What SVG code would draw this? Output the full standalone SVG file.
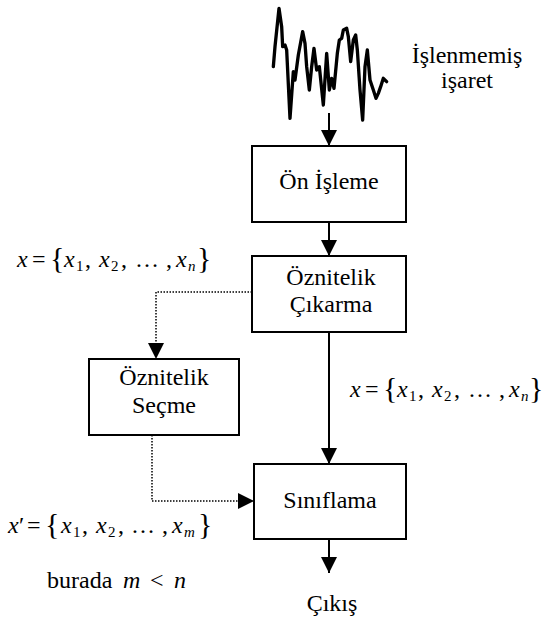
<svg xmlns="http://www.w3.org/2000/svg" width="543" height="619" viewBox="0 0 543 619" font-family="'Liberation Serif', 'Times New Roman', 'DejaVu Serif', serif">
<style>
text, tspan{font-family:"Liberation Serif","Times New Roman","DejaVu Serif",serif;fill:#000}
.lbl{font-size:24px;text-anchor:middle}
.box{fill:#fff;stroke:#000;stroke-width:2}
.solid{stroke:#000;stroke-width:2;fill:none}
.dot{stroke:#000;stroke-width:1.5;stroke-dasharray:1.5 1.5;fill:none}
.it{font-style:italic;font-size:24px}
.op{font-size:24px}
.br{font-size:30px}
.sub{font-size:15px}
</style>
<defs>
<marker id="ah" viewBox="0 0 16 16" markerWidth="16" markerHeight="16" refX="16" refY="8" orient="auto" markerUnits="userSpaceOnUse">
<path d="M0,0 L16,8 L0,16 z" fill="#000"/>
</marker>
</defs>

<g id="signal">
<g transform="translate(260 0) scale(0.33333)">
<path d="M40,200 L45,140 L57,25 L65,80 L68,140 L75,135 L80,150 L90,355 L100,215 L105,240 L115,165 L128,95 L135,130 L140,200 L148,270 L155,200 L162,145 L170,210 L178,200 L190,315 L200,160 L208,270 L215,235 L222,265 L232,160 L238,120 L245,115 L250,90 L260,85 L265,110 L272,185 L280,120 L287,105 L292,150 L300,270 L308,360 L315,200 L322,150 L330,240 L340,270 L348,295 L355,280 L362,260 L370,235 L380,245" fill="none" stroke="#000" stroke-width="10" stroke-linejoin="round" stroke-linecap="round"/>
</g>
<text class="lbl" x="467" y="63">İşlenmemiş</text>
<text class="lbl" x="467" y="88">işaret</text>
</g>

<g id="connectors">
<line class="solid" x1="329" y1="113" x2="329" y2="146" marker-end="url(#ah)"/>
<line class="solid" x1="329" y1="222" x2="329" y2="256" marker-end="url(#ah)"/>
<line class="solid" x1="329" y1="332" x2="329" y2="464" marker-end="url(#ah)"/>
<line class="solid" x1="329" y1="539" x2="329" y2="573" marker-end="url(#ah)"/>
<polyline class="dot" points="252,292 156,292 156,359" marker-end="url(#ah)"/>
<polyline class="dot" points="152,435 152,501 254,501" marker-end="url(#ah)"/>
</g>

<g id="on-isleme">
<rect class="box" x="252" y="146" width="154" height="76"/>
<text class="lbl" x="329" y="189">Ön İşleme</text>
</g>

<g id="oznitelik-cikarma">
<rect class="box" x="252" y="256" width="154" height="76"/>
<text class="lbl" x="331" y="285">Öznitelik</text>
<text class="lbl" x="331" y="312">Çıkarma</text>
</g>

<g id="oznitelik-secme">
<rect class="box" x="89" y="359" width="150" height="76"/>
<text class="lbl" x="164" y="385">Öznitelik</text>
<text class="lbl" x="164" y="413">Seçme</text>
</g>

<g id="siniflama">
<rect class="box" x="254" y="464" width="152" height="75"/>
<text class="lbl" x="330" y="508">Sınıflama</text>
</g>

<g id="cikis">
<text class="lbl" x="332" y="611">Çıkış</text>
</g>

<g id="label-x-top">
<text x="0" y="267"><tspan class="it" x="17">x</tspan><tspan class="op" x="32">=</tspan><tspan class="br" x="50" dy="1">{</tspan><tspan class="it" x="64" dy="-1">x</tspan><tspan class="sub" x="76" dy="4">1</tspan><tspan class="op" x="85" dy="-4">,</tspan><tspan class="it" x="99">x</tspan><tspan class="sub" x="111" dy="4">2</tspan><tspan class="op" x="121" dy="-4">,</tspan><tspan class="op" x="135">…</tspan><tspan class="op" x="166">,</tspan><tspan class="it" x="176">x</tspan><tspan class="sub it" x="188" dy="4">n</tspan><tspan class="br" x="197" dy="-3">}</tspan></text>
</g>

<g id="label-x-right">
<text x="0" y="397"><tspan class="it" x="350">x</tspan><tspan class="op" x="365">=</tspan><tspan class="br" x="383" dy="1">{</tspan><tspan class="it" x="397" dy="-1">x</tspan><tspan class="sub" x="409" dy="4">1</tspan><tspan class="op" x="418" dy="-4">,</tspan><tspan class="it" x="432">x</tspan><tspan class="sub" x="444" dy="4">2</tspan><tspan class="op" x="454" dy="-4">,</tspan><tspan class="op" x="468">…</tspan><tspan class="op" x="499">,</tspan><tspan class="it" x="509">x</tspan><tspan class="sub it" x="521" dy="4">n</tspan><tspan class="br" x="529" dy="-3">}</tspan></text>
</g>

<g id="label-x-prime">
<text x="0" y="533"><tspan class="it" x="8">x</tspan><tspan class="op" x="19">′</tspan><tspan class="op" x="27">=</tspan><tspan class="br" x="45" dy="1">{</tspan><tspan class="it" x="61" dy="-1">x</tspan><tspan class="sub" x="73" dy="4">1</tspan><tspan class="op" x="82" dy="-4">,</tspan><tspan class="it" x="96">x</tspan><tspan class="sub" x="108" dy="4">2</tspan><tspan class="op" x="118" dy="-4">,</tspan><tspan class="op" x="131">…</tspan><tspan class="op" x="162">,</tspan><tspan class="it" x="172">x</tspan><tspan class="sub it" x="184" dy="4">m</tspan><tspan class="br" x="198" dy="-3">}</tspan></text>
</g>

<g id="label-burada">
<text x="0" y="588"><tspan class="op" x="47">burada</tspan><tspan class="it" x="123">m</tspan><tspan class="op" x="150">&lt;</tspan><tspan class="it" x="174">n</tspan></text>
</g>
</svg>
